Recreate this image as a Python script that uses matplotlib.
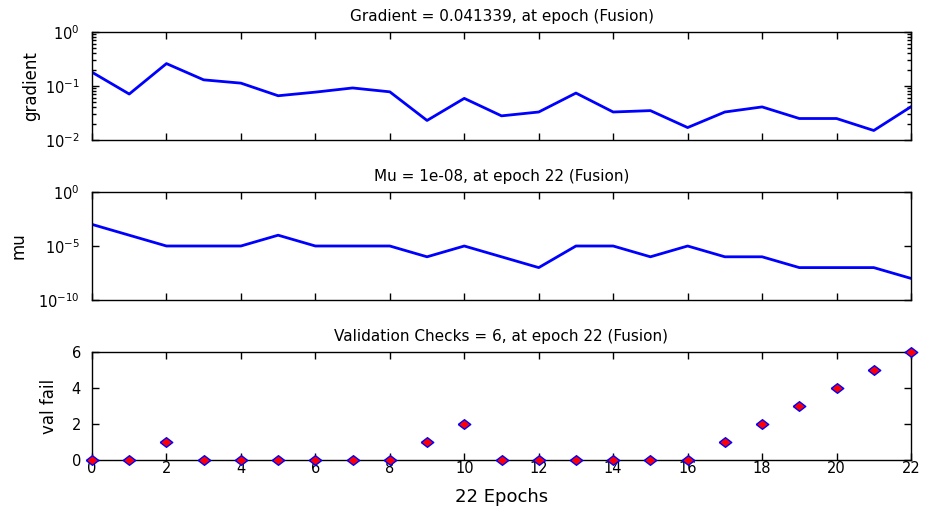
import numpy as np
import matplotlib
matplotlib.use('Agg')
import matplotlib.pyplot as plt
from matplotlib.ticker import LogLocator, NullFormatter, NullLocator, FixedLocator

# training record: gradient, mu and validation checks per epoch
epochs = list(range(23))
gradient = [0.18, 0.071, 0.26, 0.13, 0.113, 0.066, 0.077, 0.092, 0.078, 0.023,
            0.059, 0.028, 0.033, 0.074, 0.033, 0.035, 0.017, 0.033, 0.041, 0.025,
            0.025, 0.015, 0.041339]
mu = [1e-3, 1e-4, 1e-5, 1e-5, 1e-5, 1e-4, 1e-5, 1e-5, 1e-5, 1e-6,
      1e-5, 1e-6, 1e-7, 1e-5, 1e-5, 1e-6, 1e-5, 1e-6, 1e-6, 1e-7,
      1e-7, 1e-7, 1e-8]
val_fail = [0, 0, 1, 0, 0, 0, 0, 0, 0, 1, 2, 0, 0, 0, 0, 0, 0, 1, 2, 3, 4, 5, 6]

titles = ['Gradient = 0.041339, at epoch (Fusion)',
          'Mu = 1e-08, at epoch 22 (Fusion)',
          'Validation Checks = 6, at epoch 22 (Fusion)']
ylabels = ['gradient', 'mu', 'val fail']
xticks = list(range(0, 23, 2))

plt.rcParams['font.family'] = ['DejaVu Sans']
plt.rcParams['mathtext.fontset'] = 'dejavusans'

fig = plt.figure(figsize=(9.31, 5.07), dpi=100)
W, H = 931.0, 507.0
left = 92 / W
width = (911 - 92) / W
h = 108 / H
ax1 = fig.add_axes([left, 1 - 140 / H, width, h])
ax2 = fig.add_axes([left, 1 - 300 / H, width, h])
ax3 = fig.add_axes([left, 1 - 460 / H, width, h])

for ax in (ax1, ax2, ax3):
    ax.set_xlim(0, 22)
    ax.xaxis.set_major_locator(FixedLocator(xticks))
    ax.tick_params(which='both', direction='in', top=True, right=True,
                   labelsize=10.5, width=1.0, color='black')
    ax.tick_params(which='major', length=5)
    ax.tick_params(which='minor', length=3)
    for s in ax.spines.values():
        s.set_linewidth(1.0)

# gradient
ax1.plot(epochs, gradient, color='#0000ff', lw=2)
ax1.set_yscale('log')
ax1.set_ylim(1e-2, 1e0)
ax1.yaxis.set_major_locator(FixedLocator([1e-2, 1e-1, 1e0]))
ax1.yaxis.set_minor_locator(LogLocator(base=10, subs=np.arange(2, 10)))
ax1.yaxis.set_minor_formatter(NullFormatter())
ax1.tick_params(axis='x', labelbottom=False)
ax1.tick_params(axis='y', pad=9)

# mu
ax2.plot(epochs, mu, color='#0000ff', lw=2)
ax2.set_yscale('log')
ax2.set_ylim(1e-10, 1e0)
ax2.yaxis.set_major_locator(FixedLocator([1e-10, 1e-5, 1e0]))
ax2.yaxis.set_minor_locator(NullLocator())
ax2.tick_params(axis='x', labelbottom=False)
ax2.tick_params(axis='y', pad=9)

# validation checks
diamond = [(-1.3, 0), (0, 1), (1.3, 0), (0, -1), (-1.3, 0)]
ax3.plot(epochs, val_fail, linestyle='none', marker=diamond, markersize=9,
         markerfacecolor='#ff0000', markeredgecolor='#0000ff',
         markeredgewidth=1.0, clip_on=False, zorder=5)
ax3.set_ylim(0, 6)
ax3.set_yticks([0, 2, 4, 6])
ax3.tick_params(axis='y', pad=8)
ax3.tick_params(axis='x', pad=1)
ax3.set_xlabel('22 Epochs', fontsize=13, labelpad=8)

label_x = [-0.0635, -0.079, -0.0415]
for ax, t, yl, lx in zip((ax1, ax2, ax3), titles, ylabels, label_x):
    ax.set_title(t, fontsize=11, pad=8)
    ax.set_ylabel(yl, fontsize=12)
    ax.yaxis.set_label_coords(lx, 0.5)

fig.savefig('out.png', dpi=100)
